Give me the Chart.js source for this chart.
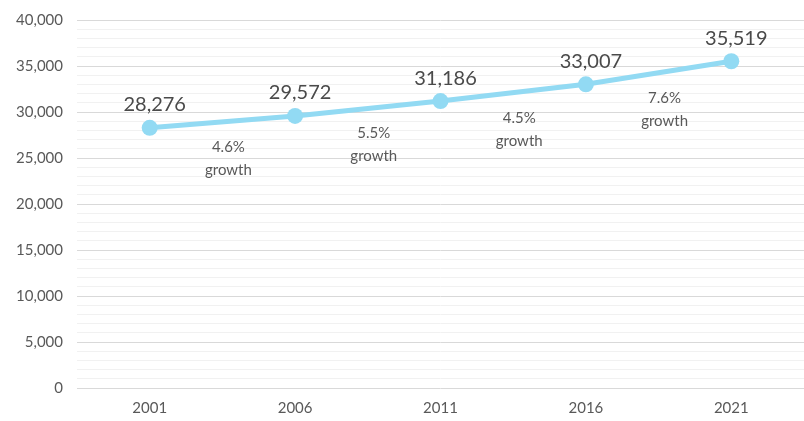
<!DOCTYPE html>
<html>
<head>
<meta charset="utf-8">
<script src="https://cdn.jsdelivr.net/npm/chart.js@4"></script>
<style>
  html, body { margin: 0; padding: 0; background: #fff; }
  #wrap { width: 804px; height: 421px; position: relative; }
</style>
</head>
<body>
<div id="wrap"><canvas id="popChart"></canvas></div>
<script>
// ── Population line chart ──
const years = ['2001', '2006', '2011', '2016', '2021'];
const population = [28276, 29572, 31186, 33007, 35519];
const growth = ['4.6%', '5.5%', '4.5%', '7.6%'];
const yMax = 40000;
const majorStep = 5000;
const minorStep = 1000;

const lineColor = '#92daf3';
const textColor = '#595959';
const fontFamily = 'Lato, "Open Sans", sans-serif';

// value labels above points + growth notes between them
const labelsPlugin = {
  id: 'popLabels',
  afterDatasetsDraw(chart) {
    const { ctx, scales: { x, y } } = chart;
    ctx.save();
    ctx.textAlign = 'center';
    ctx.textBaseline = 'middle';
    ctx.fillStyle = '#4a4a4a';
    ctx.font = '20px ' + fontFamily;
    population.forEach((v, i) => {
      ctx.fillText(v.toLocaleString('en-US'), x.getPixelForValue(i) + 5, y.getPixelForValue(v) - 23);
    });
    ctx.font = '15px ' + fontFamily;
    ctx.fillStyle = textColor;
    growth.forEach((g, i) => {
      const px = x.getPixelForValue(i + 0.5) + 6;
      const py = y.getPixelForValue((population[i] + population[i + 1]) / 2) + 25;
      ctx.fillText(g, px, py);
      ctx.fillText('growth', px, py + 23);
    });
    ctx.restore();
  }
};

new Chart(document.getElementById('popChart').getContext('2d'), {
  type: 'line',
  data: {
    labels: years,
    datasets: [{
      label: 'Population',
      data: population,
      borderColor: lineColor,
      backgroundColor: lineColor,
      borderWidth: 5,
      pointRadius: 8,
      pointBackgroundColor: lineColor,
      pointBorderWidth: 0,
      tension: 0
    }]
  },
  options: {
    responsive: true,
    maintainAspectRatio: false,
    animation: false,
    layout: { autoPadding: false, padding: { top: 20, right: 0, bottom: 0, left: 0 } },
    plugins: { legend: { display: false }, tooltip: { enabled: false } },
    scales: {
      x: {
        offset: true,
        afterFit: s => { s.height = 33; },
        grid: { display: false, drawTicks: false },
        border: { display: false },
        ticks: { color: textColor, font: { family: fontFamily, size: 15 }, padding: 11 }
      },
      y: {
        min: 0,
        max: yMax,
        afterFit: s => { s.width = 77; s.paddingTop = 0; s.paddingBottom = 0; },
        border: { display: false },
        grid: {
          drawTicks: false,
          color: c => (c.tick.value % majorStep === 0 ? '#d9d9d9' : '#f1f1f1'),
          lineWidth: 1
        },
        ticks: {
          stepSize: minorStep,
          autoSkip: false,
          padding: 14,
          color: textColor,
          font: { family: fontFamily, size: 15 },
          callback: v => (v % majorStep === 0 ? v.toLocaleString('en-US') : '')
        }
      }
    }
  },
  plugins: [labelsPlugin]
});
</script>
</body>
</html>
